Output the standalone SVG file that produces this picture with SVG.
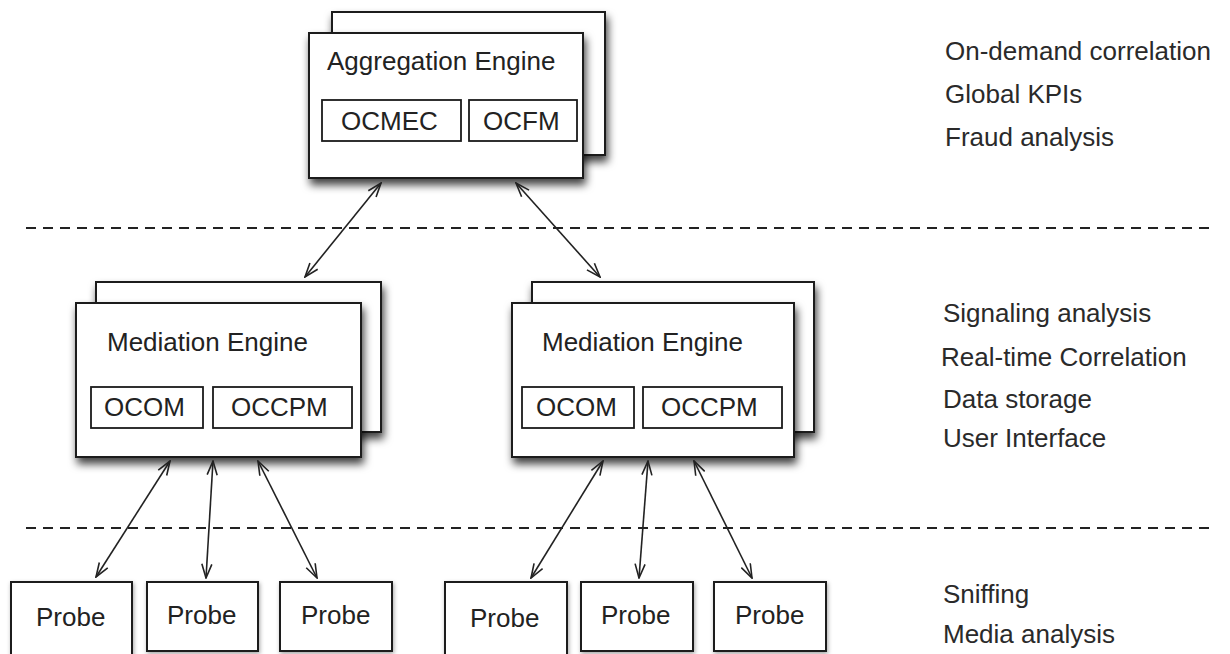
<svg xmlns="http://www.w3.org/2000/svg" width="1230" height="654" viewBox="0 0 1230 654">
<defs>
<filter id="sh" x="-10%" y="-10%" width="130%" height="140%">
<feDropShadow dx="2" dy="6" stdDeviation="4" flood-color="#000" flood-opacity="0.75"/>
</filter>
<filter id="sh2" x="-10%" y="-10%" width="130%" height="140%">
<feDropShadow dx="1" dy="2" stdDeviation="2" flood-color="#000" flood-opacity="0.35"/>
</filter>
<marker id="ah" viewBox="0 0 16 12" refX="15" refY="6" markerWidth="16" markerHeight="12" markerUnits="userSpaceOnUse" orient="auto-start-reverse">
<path d="M1,1 L15,6 L1,11" fill="none" stroke="#222" stroke-width="1.6"/>
</marker>
<style>
.box{fill:#fff;stroke:#1a1a1a;stroke-width:2}
.sub{fill:#fff;stroke:#1a1a1a;stroke-width:1.8}
.t{font-family:"Liberation Sans",Arial,sans-serif;font-size:26px;fill:#222}
.side{font-family:"Liberation Sans",Arial,sans-serif;font-size:26px;fill:#2a2a2a}
.dash{stroke:#222;stroke-width:2;stroke-dasharray:10 7;fill:none}
.con{stroke:#222;stroke-width:1.6;fill:none;marker-start:url(#ah);marker-end:url(#ah)}
</style>
</defs>
<rect width="1230" height="654" fill="#fff"/>

<g id="separators">
<line class="dash" x1="26" y1="228" x2="1210" y2="228"/>
<line class="dash" x1="26" y1="528" x2="1210" y2="528"/>
</g>

<g id="aggregation">
<rect class="box" x="332" y="12" width="273" height="143" filter="url(#sh)"/>
<rect class="box" x="309" y="33" width="274" height="145" filter="url(#sh)"/>
<text class="t" x="327" y="70">Aggregation Engine</text>
<rect class="sub" x="322" y="100" width="139" height="41"/>
<text class="t" x="341" y="130">OCMEC</text>
<rect class="sub" x="469" y="100" width="108" height="41"/>
<text class="t" x="483" y="130">OCFM</text>
</g>

<g id="mediation-left">
<rect class="box" x="96" y="282" width="285" height="150" filter="url(#sh)"/>
<rect class="box" x="76" y="303" width="285" height="154" filter="url(#sh)"/>
<text class="t" x="107" y="351">Mediation Engine</text>
<rect class="sub" x="91" y="387" width="112" height="41"/>
<text class="t" x="104" y="416">OCOM</text>
<rect class="sub" x="213" y="387" width="139" height="41"/>
<text class="t" x="231" y="416">OCCPM</text>
</g>

<g id="mediation-right">
<rect class="box" x="532" y="282" width="282" height="150" filter="url(#sh)"/>
<rect class="box" x="512" y="303" width="282" height="154" filter="url(#sh)"/>
<text class="t" x="542" y="351">Mediation Engine</text>
<rect class="sub" x="522" y="387" width="112" height="41"/>
<text class="t" x="536" y="416">OCOM</text>
<rect class="sub" x="643" y="387" width="139" height="41"/>
<text class="t" x="661" y="416">OCCPM</text>
</g>

<g id="probe1"><rect class="box" x="11" y="582" width="121" height="80" filter="url(#sh2)"/><text class="t" x="36" y="626">Probe</text></g>
<g id="probe2"><rect class="box" x="147" y="582" width="111" height="69" filter="url(#sh2)"/><text class="t" x="167" y="624">Probe</text></g>
<g id="probe3"><rect class="box" x="280" y="582" width="112" height="69" filter="url(#sh2)"/><text class="t" x="301" y="624">Probe</text></g>
<g id="probe4"><rect class="box" x="445" y="582" width="122" height="80" filter="url(#sh2)"/><text class="t" x="470" y="627">Probe</text></g>
<g id="probe5"><rect class="box" x="581" y="582" width="112" height="69" filter="url(#sh2)"/><text class="t" x="601" y="624">Probe</text></g>
<g id="probe6"><rect class="box" x="714" y="582" width="112" height="69" filter="url(#sh2)"/><text class="t" x="735" y="624">Probe</text></g>

<g id="connectors">
<line class="con" x1="381" y1="183" x2="305" y2="277"/>
<line class="con" x1="516" y1="183" x2="600" y2="277"/>
<line class="con" x1="170" y1="461" x2="96" y2="577"/>
<line class="con" x1="213" y1="461" x2="206" y2="578"/>
<line class="con" x1="258" y1="461" x2="317" y2="578"/>
<line class="con" x1="603" y1="461" x2="531" y2="578"/>
<line class="con" x1="648" y1="461" x2="639" y2="578"/>
<line class="con" x1="694" y1="461" x2="752" y2="578"/>
</g>

<g id="labels">
<text class="side" x="945" y="60">On-demand correlation</text>
<text class="side" x="945" y="103">Global KPIs</text>
<text class="side" x="945" y="146">Fraud analysis</text>
<text class="side" x="943" y="322">Signaling analysis</text>
<text class="side" x="941" y="366">Real-time Correlation</text>
<text class="side" x="943" y="408">Data storage</text>
<text class="side" x="943" y="447">User Interface</text>
<text class="side" x="943" y="603">Sniffing</text>
<text class="side" x="943" y="643">Media analysis</text>
</g>
</svg>
